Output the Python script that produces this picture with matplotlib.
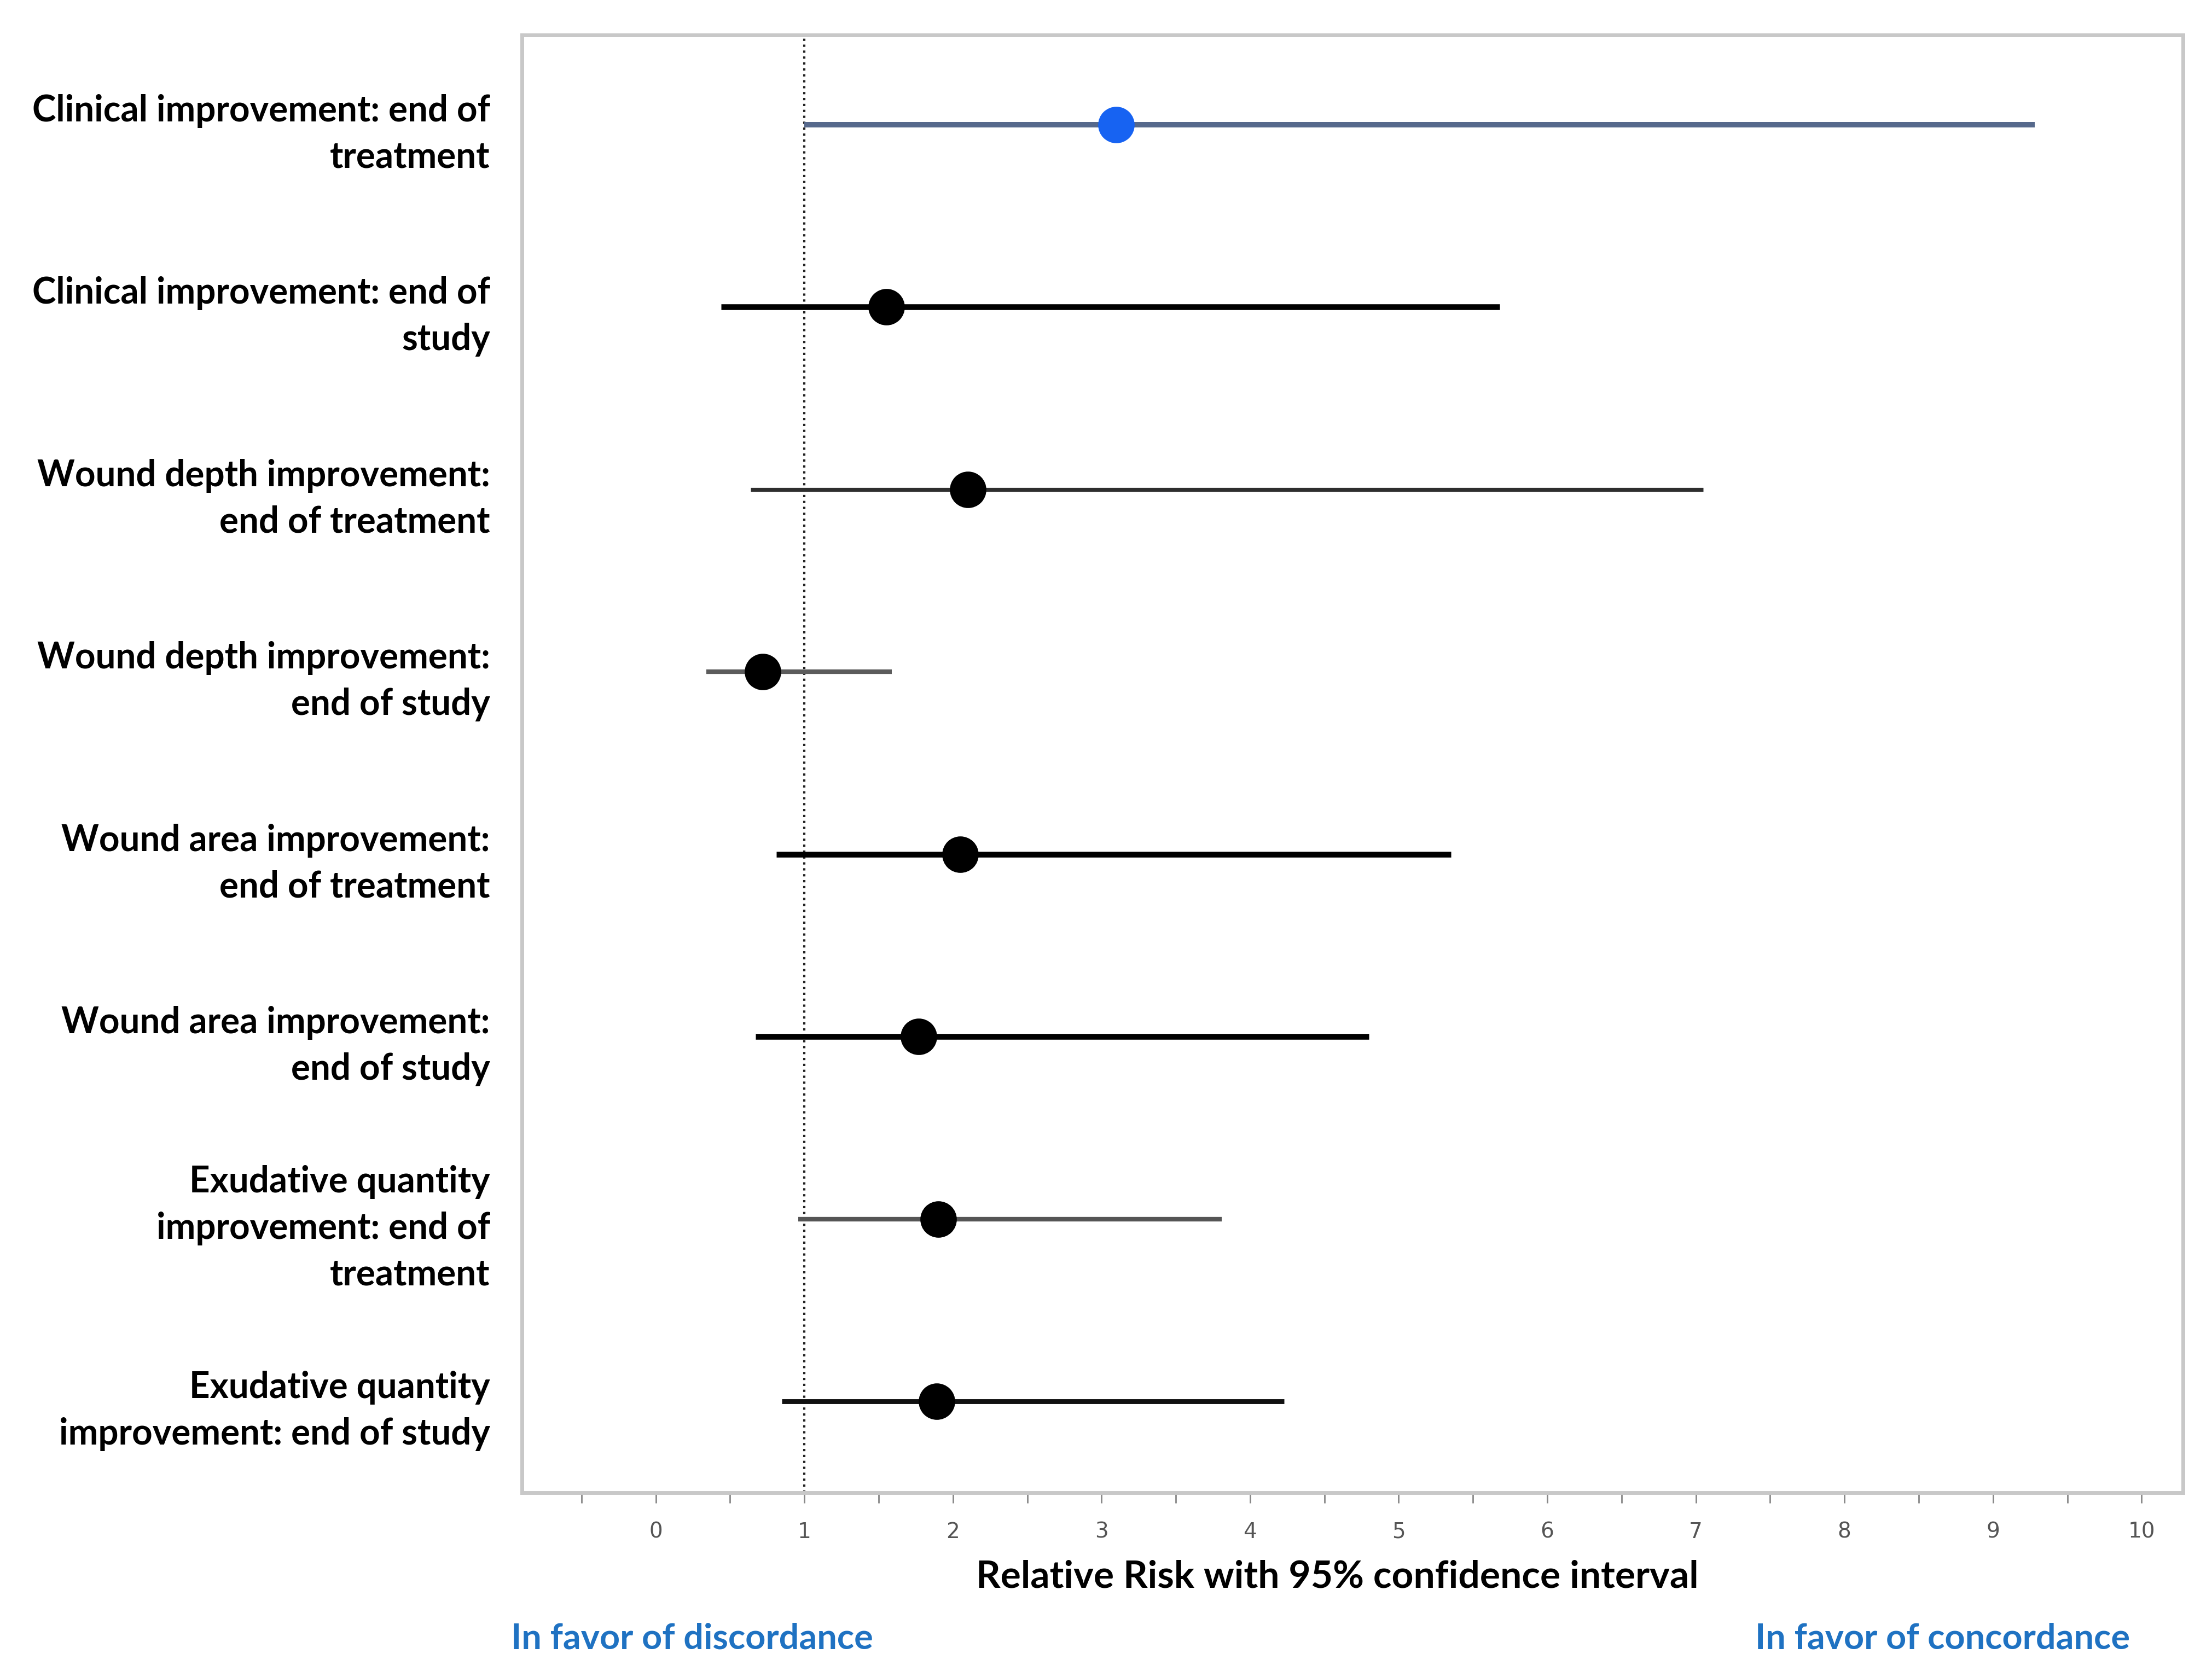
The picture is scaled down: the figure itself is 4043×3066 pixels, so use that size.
import numpy as np
import matplotlib.pyplot as plt
from matplotlib.ticker import MultipleLocator

# dados (risco relativo e IC95%)
labels = [
    "Clinical improvement: end of\ntreatment",
    "Clinical improvement: end of\nstudy",
    "Wound depth improvement:\nend of treatment",
    "Wound depth improvement:\nend of study",
    "Wound area improvement:\nend of treatment",
    "Wound area improvement:\nend of study",
    "Exudative quantity\nimprovement: end of\ntreatment",
    "Exudative quantity\nimprovement: end of study",
]
rr = [3.10, 1.55, 2.10, 0.72, 2.05, 1.77, 1.90, 1.89]
ci_low = [1.00, 0.44, 0.64, 0.34, 0.81, 0.67, 0.96, 0.85]
ci_high = [9.28, 5.68, 7.05, 1.59, 5.35, 4.80, 3.81, 4.23]
xticks = [0, 1, 2, 3, 4, 5, 6, 7, 8, 9, 10]

# estilo de cada linha
line_colors = ["#56698c", "#000000", "#2e2e2e", "#5c5c5c", "#000000", "#000000", "#555555", "#111111"]
line_widths = [3.6, 3.8, 2.6, 3.0, 3.8, 3.8, 3.0, 3.2]
dot_colors = ["#1763f2"] + ["#000000"] * 7

fig = plt.figure(figsize=(4043 / 200, 3066 / 200), dpi=200)
ax = fig.add_axes([0.236, 0.110, 0.751, 0.869])

y = np.arange(len(labels))
for i in range(len(labels)):
    ax.plot([ci_low[i], ci_high[i]], [y[i], y[i]], color=line_colors[i],
            lw=line_widths[i], solid_capstyle="butt", zorder=2)
    ax.plot(rr[i], y[i], "o", color=dot_colors[i], markersize=23, zorder=3)

ax.axvline(1, color="#222222", linestyle=(0, (1, 1.6)), lw=1.5, zorder=1)

ax.set_xlim(-0.9, 10.28)
ax.set_ylim(7.5, -0.49)

ax.set_xticks(xticks)
ax.xaxis.set_minor_locator(MultipleLocator(0.5))
ax.tick_params(axis="x", which="both", direction="out", length=7, width=1,
               color="#888888", labelcolor="#555555", labelsize=14, pad=12)
for t in ax.get_xticklabels():
    t.set_family(["Liberation Sans Narrow", "DejaVu Sans"])

ax.set_yticks(y)
ax.set_yticklabels(labels, fontsize=23.6, fontweight="bold", family="Lato",
                   linespacing=1.45)
ax.tick_params(axis="y", length=0, pad=21)

for s in ax.spines.values():
    s.set_color("#c8c8c8")
    s.set_linewidth(2.5)

# textos abaixo do eixo
fig.text(0.6046, 0.0597, "Relative Risk with 95% confidence interval",
         ha="center", va="center", fontsize=25, fontweight="bold", family="Lato")
fig.text(0.2309, 0.0227, "In favor of discordance", ha="left", va="center",
         fontsize=23.3, fontweight="bold", family="Lato", color="#1f72c2")
fig.text(0.963, 0.0227, "In favor of concordance", ha="right", va="center",
         fontsize=23.3, fontweight="bold", family="Lato", color="#1f72c2")

fig.savefig("out.png", dpi=200)
